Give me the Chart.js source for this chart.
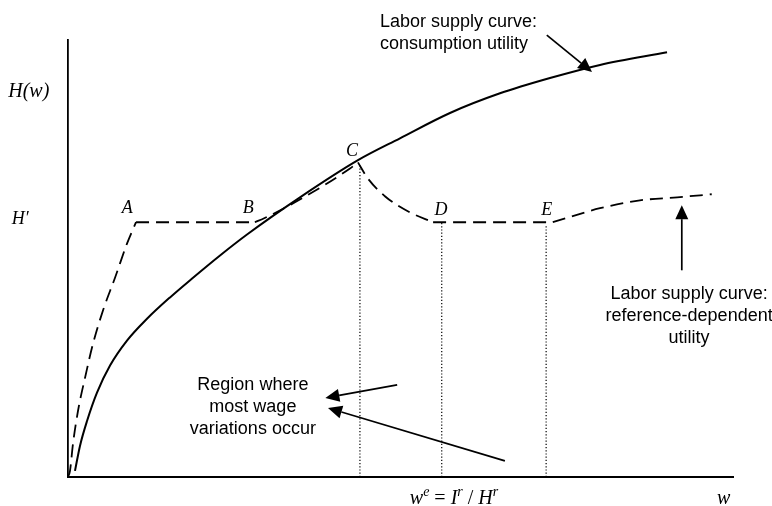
<!DOCTYPE html>
<html>
<head>
<meta charset="utf-8">
<script src="https://cdn.jsdelivr.net/npm/chart.js@4/dist/chart.umd.min.js"></script>
<style>
  html, body { margin: 0; padding: 0; background: #fff; }
  #wrap { width: 772px; height: 506px; }
</style>
</head>
<body>
<div id="wrap"><canvas id="laborChart" width="772" height="506"></canvas></div>
<script>
// Labor supply curve: consumption utility (w, H)
const consumptionW = [1.05, 1.8, 2.86, 4.36, 6.32, 8.87, 11.88, 15.34, 18.8, 22.86, 26.92, 34.89, 43.61, 49.92, 57.44, 64.96, 72.48, 80.0, 90.08];
const consumptionH = [1.4, 7.1, 12.8, 19.3, 25.5, 31.2, 36.2, 41.1, 45.6, 50.7, 55.5, 64.0, 72.5, 77.5, 83.3, 87.8, 91.3, 94.3, 97.2];

// Labor supply curve: reference-dependent utility, piece by piece
const refRiseW = [0, 0.3, 0.75, 1.5, 2.56, 3.76, 5.26, 7.07, 8.87, 10.23];
const refRiseH = [0, 1.4, 7.6, 15.1, 22.7, 30.5, 38.1, 45.6, 53.4, 58.3];
const refABW = [10.23, 28.1];
const refABH = [58.3, 58.3];
const refBCW = [28.1, 29.5, 35.0, 42.4, 43.6];
const refBCH = [58.3, 59.2, 63.6, 70.6, 72.0];
const refCDW = [43.6, 45.1, 47.7, 51.1, 54.9];
const refCDH = [72.0, 68.3, 64.2, 60.8, 58.3];
const refDEW = [54.9, 72.9];
const refDEH = [58.3, 58.3];
const refTailW = [72.9, 80.0, 86.0, 91.6, 96.8];
const refTailH = [58.3, 61.5, 63.3, 64.0, 64.7];

// dotted drop lines under C, D, E
const dropW = [43.9, 56.2, 71.9];
const dropH = [71.6, 58.3, 57.6];

// arrows: tail -> tip
const arrowTailW = [72.0, 92.3, 49.5, 65.7];
const arrowTailH = [101.1, 47.3, 21.1, 3.7];
const arrowTipW = [78.8, 92.3, 38.7, 39.1];
const arrowTipH = [92.7, 62.2, 18.1, 15.8];

const pts = (ws, hs) => ws.map((w, i) => ({ x: w, y: hs[i] }));

const solidStyle = { borderColor: '#000', borderWidth: 2, pointRadius: 0, showLine: true, fill: false, cubicInterpolationMode: 'monotone', clip: false };
const dashStyle = { borderColor: '#000', borderWidth: 1.8, borderDash: [13, 7], pointRadius: 0, showLine: true, fill: false, cubicInterpolationMode: 'monotone', clip: false };

const datasets = [
    { ...solidStyle, data: pts(consumptionW, consumptionH) },
    { ...dashStyle, data: pts(refRiseW, refRiseH) },
    { ...dashStyle, data: pts(refABW, refABH) },
    { ...dashStyle, data: pts(refBCW, refBCH) },
    { ...dashStyle, data: pts(refCDW, refCDH) },
    { ...dashStyle, data: pts(refDEW, refDEH) },
    { ...dashStyle, data: pts(refTailW, refTailH) },
];
dropW.forEach((w, i) => {
    datasets.push({ borderColor: '#000', borderWidth: 1.2, borderDash: [1.2, 2], pointRadius: 0, showLine: true, data: [{ x: w, y: 0 }, { x: w, y: dropH[i] }] });
});

const serif = '"Liberation Serif", "Times New Roman", serif';
const sans = '"Liberation Sans", Arial, sans-serif';

// text annotations, positioned in data units (baseline)
const labels = [
    { text: 'H(w)', w: -5.9, h: 86.9, font: 'italic 20px ' + serif, align: 'center' },
    { text: 'H\u2032', w: -7.2, h: 58.0, font: 'italic 18px ' + serif, align: 'center' },
    { text: 'A', w: 8.9, h: 60.3, font: 'italic 18px ' + serif, align: 'center' },
    { text: 'B', w: 27.1, h: 60.3, font: 'italic 18px ' + serif, align: 'center' },
    { text: 'C', w: 42.7, h: 73.4, font: 'italic 18px ' + serif, align: 'center' },
    { text: 'D', w: 56.1, h: 59.9, font: 'italic 18px ' + serif, align: 'center' },
    { text: 'E', w: 72.0, h: 59.9, font: 'italic 18px ' + serif, align: 'center' },
    { text: 'w', w: 98.6, h: -6.2, font: 'italic 20px ' + serif, align: 'center' },
    { text: 'Labor supply curve:', w: 46.9, h: 103.0, font: '18px ' + sans, align: 'left' },
    { text: 'consumption utility', w: 46.9, h: 97.9, font: '18px ' + sans, align: 'left' },
    { text: 'Labor supply curve:', w: 93.4, h: 40.8, font: '18px ' + sans, align: 'center' },
    { text: 'reference-dependent', w: 93.4, h: 35.7, font: '18px ' + sans, align: 'center' },
    { text: 'utility', w: 93.4, h: 30.6, font: '18px ' + sans, align: 'center' },
    { text: 'Region where', w: 27.8, h: 20.0, font: '18px ' + sans, align: 'center' },
    { text: 'most wage', w: 27.8, h: 14.9, font: '18px ' + sans, align: 'center' },
    { text: 'variations occur', w: 27.8, h: 9.8, font: '18px ' + sans, align: 'center' },
];

// w^e = I^r / H^r, as runs with superscripts
const formulaW = 51.4, formulaH = -6.2;
const formulaRuns = [
    { t: 'w', sup: false }, { t: 'e', sup: true }, { t: ' = ', sup: false, up: true },
    { t: 'I', sup: false }, { t: 'r', sup: true }, { t: ' / ', sup: false, up: true },
    { t: 'H', sup: false }, { t: 'r', sup: true },
];

const annotate = {
    id: 'annotate',
    afterDatasetsDraw(chart) {
        const ctx = chart.ctx;
        const xs = chart.scales.x, ys = chart.scales.y;
        ctx.save();
        ctx.fillStyle = '#000';
        ctx.strokeStyle = '#000';
        ctx.textBaseline = 'alphabetic';

        // arrows
        arrowTailW.forEach((w, i) => {
            const x0 = xs.getPixelForValue(w), y0 = ys.getPixelForValue(arrowTailH[i]);
            const x1 = xs.getPixelForValue(arrowTipW[i]), y1 = ys.getPixelForValue(arrowTipH[i]);
            const a = Math.atan2(y1 - y0, x1 - x0);
            const len = 14, half = 6.5;
            const bx = x1 - len * Math.cos(a), by = y1 - len * Math.sin(a);
            ctx.lineWidth = 1.7;
            ctx.beginPath();
            ctx.moveTo(x0, y0);
            ctx.lineTo(bx, by);
            ctx.stroke();
            ctx.beginPath();
            ctx.moveTo(x1, y1);
            ctx.lineTo(bx + half * Math.sin(a), by - half * Math.cos(a));
            ctx.lineTo(bx - half * Math.sin(a), by + half * Math.cos(a));
            ctx.closePath();
            ctx.fill();
        });

        labels.forEach(l => {
            ctx.font = l.font;
            ctx.textAlign = l.align;
            ctx.fillText(l.text, xs.getPixelForValue(l.w), ys.getPixelForValue(l.h));
        });

        // formula under the x axis
        let x = xs.getPixelForValue(formulaW);
        const y = ys.getPixelForValue(formulaH);
        ctx.textAlign = 'left';
        formulaRuns.forEach(r => {
            ctx.font = r.sup ? 'italic 14px ' + serif : (r.up ? '20px ' + serif : 'italic 20px ' + serif);
            ctx.fillText(r.t, x, r.sup ? y - 8 : y);
            x += ctx.measureText(r.t).width;
        });
        ctx.restore();
    }
};

new Chart(document.getElementById('laborChart').getContext('2d'), {
    type: 'scatter',
    data: { datasets: datasets },
    options: {
        responsive: false,
        animation: false,
        layout: { padding: { left: 60, right: 39, top: 40, bottom: 21 } },
        plugins: {
            legend: { display: false },
            tooltip: { enabled: false }
        },
        scales: {
            x: {
                type: 'linear', min: 0, max: 100,
                grid: { display: false },
                ticks: { display: false },
                border: { display: true, color: '#000', width: 2 }
            },
            y: {
                type: 'linear', min: 0, max: 100,
                grid: { display: false },
                ticks: { display: false },
                border: { display: true, color: '#000', width: 1.8 }
            }
        }
    },
    plugins: [annotate]
});
</script>
</body>
</html>
